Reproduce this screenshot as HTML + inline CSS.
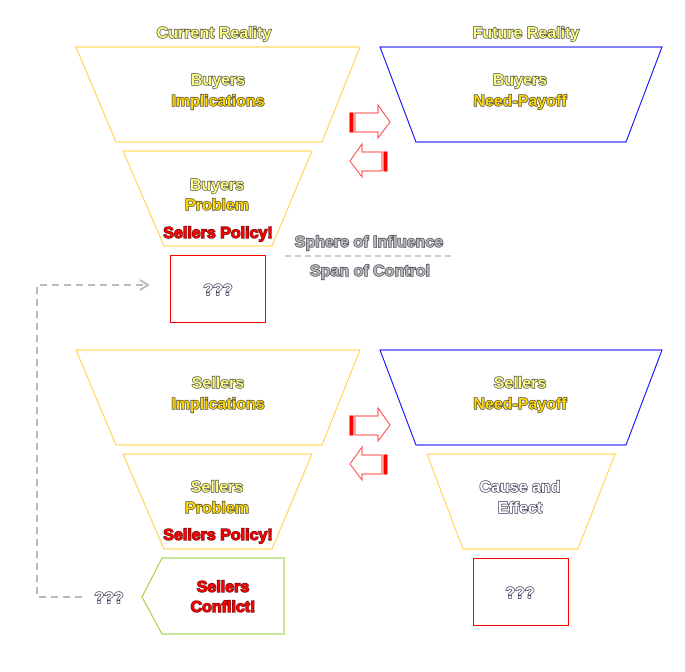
<!DOCTYPE html>
<html><head><style>body{margin:0;background:#fff}svg{display:block}
text{font-family:"Liberation Sans",sans-serif;font-weight:bold;font-size:16px;text-anchor:middle;paint-order:stroke;stroke:#333;stroke-width:1.2px}
.y{fill:#ffd700}.ly{fill:#ffff80}.r{fill:#f00;stroke:#600}.w{fill:#fff;stroke:#224}.g{fill:#bbb;stroke:#334}</style></head><body>
<svg width="685" height="672" viewBox="0 0 685 672">
<g fill="none" stroke-width="1">
<polygon points="76,47 360,47 322,142 116,142" stroke="#ffd040"/>
<polygon points="380,47 662,47 626,142 416,142" stroke="#00f"/>
<polygon points="123,151 312,151 272,246 164,246" stroke="#ffd040"/>
<rect x="170.5" y="255.5" width="95" height="67" stroke="#f00"/>
<polygon points="76,350 360,350 322,445 116,445" stroke="#ffd040"/>
<polygon points="380,350 662,350 626,445 416,445" stroke="#00f"/>
<polygon points="123,454 312,454 272,549 164,549" stroke="#ffd040"/>
<polygon points="427,454 615,454 578,549 463,549" stroke="#ffd040"/>
<rect x="473.5" y="558.5" width="95" height="67" stroke="#f00"/>
<polygon points="142,597 162,558 284,558 284,634 162,634" stroke="#9c3"/>
<line x1="285" y1="256" x2="455" y2="256" stroke="#ccc" stroke-dasharray="6,4" stroke-width="2"/>
<polyline points="82,597 37,597 37,285 146,285" stroke="#bbb" stroke-dasharray="7,5" stroke-width="2"/>
<polyline points="140,280 148,285 140,290" stroke="#bbb" stroke-width="2"/>
</g>
<g fill="#fff" stroke="#f44">
<rect x="350" y="113" width="3" height="19" fill="#f00" stroke="#f00"/>
<polygon points="355,113 378,113 378,105 390,122 378,138 378,132 355,132"/>
<rect x="384" y="152" width="3" height="19" fill="#f00" stroke="#f00"/>
<polygon points="382,152 362,152 362,144 350,161 362,177 362,171 382,171"/>
</g>
<g transform="translate(0,303)">
<rect x="350" y="113" width="3" height="19" fill="#f00" stroke="#f00"/>
<polygon points="355,113 378,113 378,105 390,122 378,138 378,132 355,132" fill="#fff" stroke="#f44"/>
<rect x="384" y="152" width="3" height="19" fill="#f00" stroke="#f00"/>
<polygon points="382,152 362,152 362,144 350,161 362,177 362,171 382,171" fill="#fff" stroke="#f44"/>
</g>
<text x="214" y="38" class="ly">Current Reality</text>
<text x="526" y="38" class="ly">Future Reality</text>
<text x="218" y="85" class="ly">Buyers</text>
<text x="218" y="106" class="y">Implications</text>
<text x="520" y="85" class="ly">Buyers</text>
<text x="520" y="106" class="y">Need-Payoff</text>
<text x="217" y="190" class="ly">Buyers</text>
<text x="217" y="210" class="y">Problem</text>
<text x="218" y="238" class="r">Sellers Policy!</text>
<text x="369" y="247" class="g">Sphere of Influence</text>
<text x="370" y="276" class="g">Span of Control</text>
<text x="218" y="295" class="w">???</text>
<text x="218" y="388" class="ly">Sellers</text>
<text x="218" y="409" class="y">Implications</text>
<text x="520" y="388" class="ly">Sellers</text>
<text x="520" y="409" class="y">Need-Payoff</text>
<text x="217" y="492" class="ly">Sellers</text>
<text x="217" y="513" class="y">Problem</text>
<text x="218" y="540" class="r">Sellers Policy!</text>
<text x="520" y="492" class="w">Cause and</text>
<text x="520" y="513" class="w">Effect</text>
<text x="520" y="598" class="w">???</text>
<text x="223" y="592" class="r">Sellers</text>
<text x="223" y="612" class="r">Conflict!</text>
<text x="109" y="603" class="w">???</text>
</svg></body></html>
